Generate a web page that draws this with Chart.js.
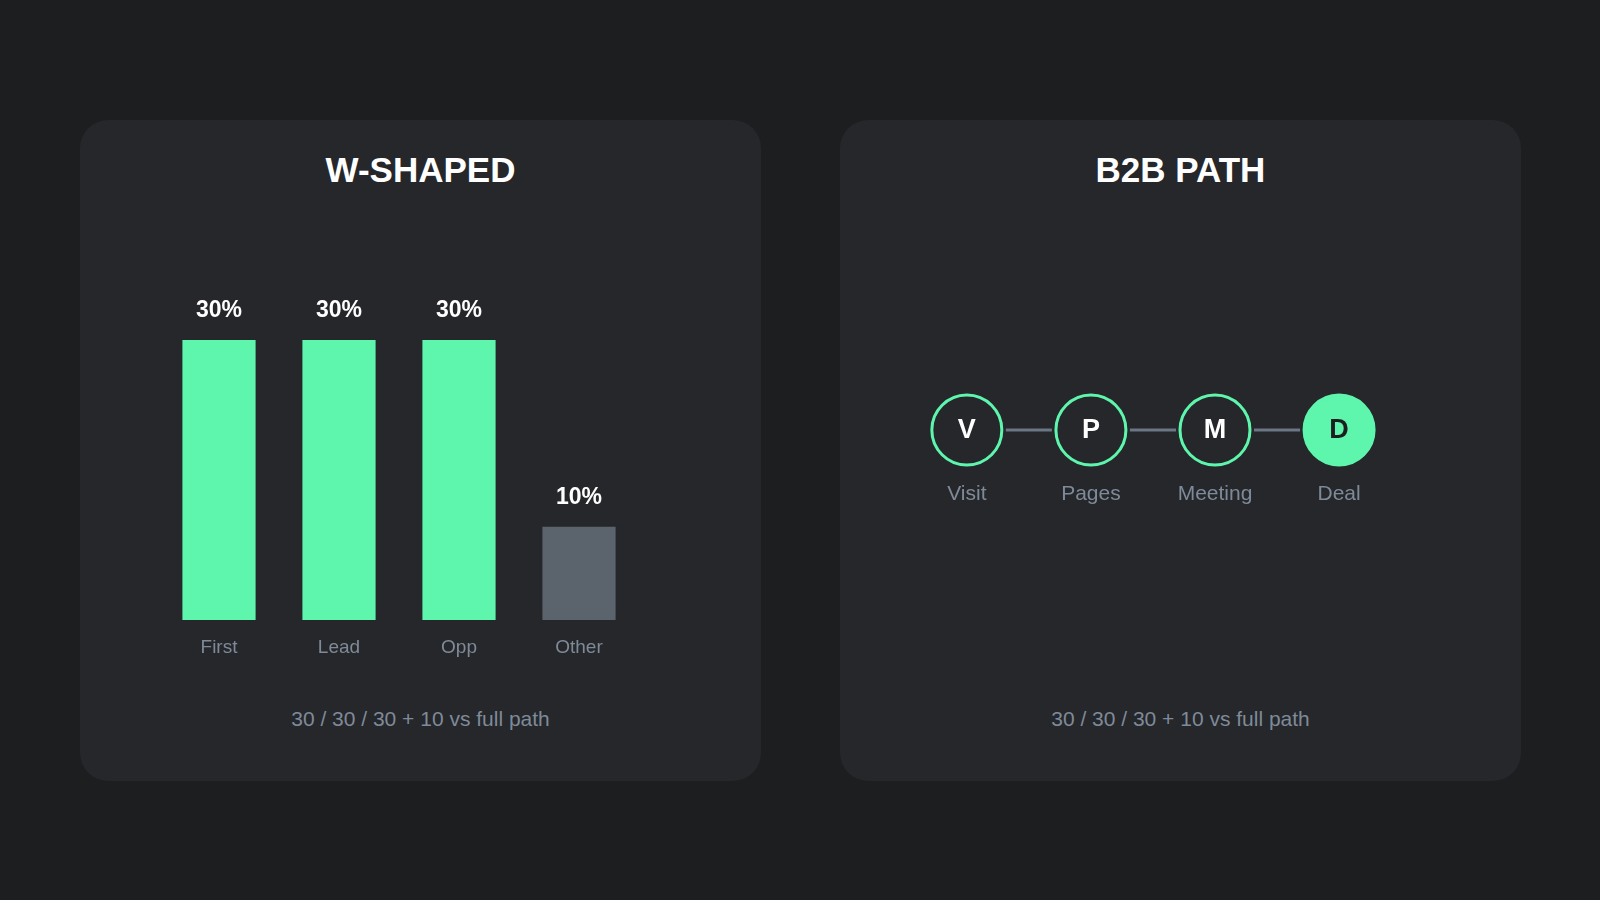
<!DOCTYPE html>
<html><head><meta charset="utf-8">
<script src="https://cdn.jsdelivr.net/npm/chart.js@4"></script>
<style>
body{margin:0;width:1600px;height:900px;background:#1d1e20;font-family:"Liberation Sans",Arial,sans-serif;position:relative;overflow:hidden}
.card{position:absolute;top:120px;width:681px;height:661px;background:#25272b;border-radius:28px}
.title{position:absolute;top:150px;width:681px;text-align:center;color:#fff;font-weight:bold;font-size:35px}
.foot{position:absolute;top:707px;width:681px;text-align:center;color:#7f8a99;font-size:21px}
canvas{position:absolute}
</style></head><body>
<div class="card" style="left:80px"></div>
<div class="card" style="left:840px"></div>
<div class="title" style="left:80px">W-SHAPED</div>
<div class="title" style="left:840px">B2B PATH</div>
<div class="foot" style="left:80px">30 / 30 / 30 + 10 vs full path</div>
<div class="foot" style="left:840px">30 / 30 / 30 + 10 vs full path</div>
<div style="position:absolute;left:159px;top:280px;width:480px;height:400px"><canvas id="bar"></canvas></div>
<div style="position:absolute;left:840px;top:330px;width:681px;height:200px"><canvas id="path"></canvas></div>
<script>
const categories=["First","Lead","Opp","Other"];
const shares=[30,30,30,10];
const steps=["Visit","Pages","Meeting","Deal"];
const stepLetters=["V","P","M","D"];
const stepPos=[0,1,2,3];
const GREEN="#5ef5ad",GRAY="#5b636d",LABEL="#7f8a99";
const barLabels={id:"bl",afterDatasetsDraw(c){const ctx=c.ctx,m=c.getDatasetMeta(0);ctx.save();ctx.textAlign="center";ctx.textBaseline="middle";
m.data.forEach((b,i)=>{ctx.fillStyle="#fff";ctx.font="bold 23px 'Liberation Sans'";ctx.fillText(shares[i]+"%",b.x,b.y-29);
ctx.fillStyle=LABEL;ctx.font="19px 'Liberation Sans'";ctx.fillText(categories[i],b.x,c.chartArea.bottom+28);});ctx.restore();}};
new Chart(document.getElementById("bar"),{type:"bar",data:{labels:categories,datasets:[{data:shares,backgroundColor:shares.map((v,i)=>i<3?GREEN:GRAY),barPercentage:0.61,categoryPercentage:1}]},
options:{responsive:true,maintainAspectRatio:false,animation:false,layout:{padding:{bottom:60}},plugins:{legend:{display:false},tooltip:{enabled:false}},
scales:{x:{display:false},y:{display:false,min:0,max:36.43}}},plugins:[barLabels]});
const pathDeco={id:"pd",beforeDatasetsDraw(c){const ctx=c.ctx,m=c.getDatasetMeta(0);ctx.save();ctx.strokeStyle="#6b7785";ctx.lineWidth=3;
for(let i=0;i<m.data.length-1;i++){const a=m.data[i],b=m.data[i+1];ctx.beginPath();ctx.moveTo(a.x+39,a.y);ctx.lineTo(b.x-39,b.y);ctx.stroke();}ctx.restore();},
afterDatasetsDraw(c){const ctx=c.ctx,m=c.getDatasetMeta(0);ctx.save();ctx.textAlign="center";ctx.textBaseline="middle";
m.data.forEach((p,i)=>{ctx.fillStyle=i==3?"#1d1e20":"#fff";ctx.font="bold 27px 'Liberation Sans'";ctx.fillText(stepLetters[i],p.x,p.y+1);
ctx.fillStyle=LABEL;ctx.font="21px 'Liberation Sans'";ctx.fillText(steps[i],p.x,p.y+64);});ctx.restore();}};
new Chart(document.getElementById("path"),{type:"scatter",data:{datasets:[{data:stepPos.map(x=>({x,y:0})),pointRadius:35,pointHoverRadius:35,borderWidth:3,
borderColor:GREEN,backgroundColor:stepPos.map((v,i)=>i==3?GREEN:"#25272b")}]},
options:{responsive:true,maintainAspectRatio:false,animation:false,layout:{padding:0},plugins:{legend:{display:false},tooltip:{enabled:false}},
scales:{x:{display:false,min:-0.716,max:4.160},y:{display:false,min:-1,max:1}}},plugins:[pathDeco]});
</script></body></html>
